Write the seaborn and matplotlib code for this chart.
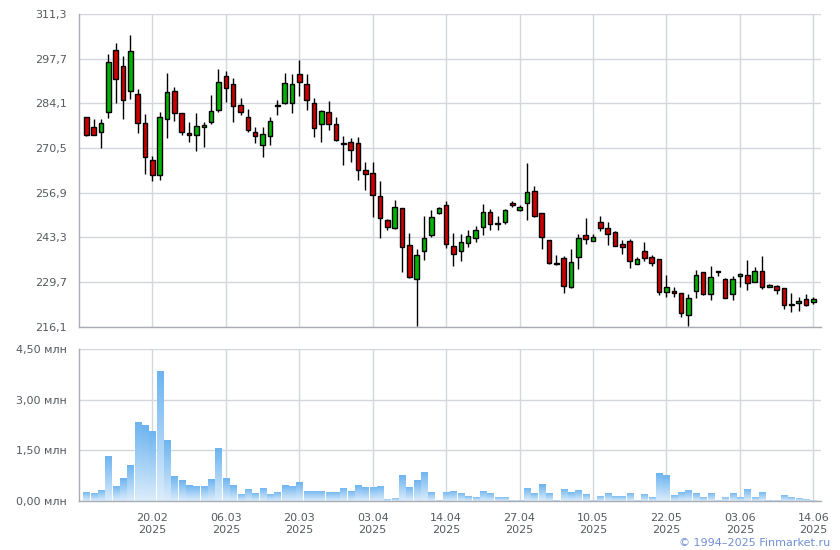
import matplotlib
matplotlib.use("Agg")
import matplotlib.pyplot as plt
import seaborn as sns
import numpy as np
import pandas as pd

# daily OHLC (100 sessions)
opens = [280.0, 277.0, 275.5, 281.6, 300.4, 295.6, 288.0, 287.0, 278.2, 266.9,
         262.4, 279.4, 288.0, 281.3, 275.2, 274.5, 277.0, 278.5, 282.2, 292.4,
         290.1, 283.7, 280.0, 275.5, 271.5, 274.3, 283.3, 284.3, 284.3, 293.1,
         290.1, 284.3, 277.9, 281.6, 277.9, 272.1, 272.4, 272.1, 263.7, 262.9,
         255.9, 248.6, 246.3, 252.2, 240.9, 230.6, 239.1, 244.0, 250.7, 253.2,
         240.8, 239.1, 241.5, 243.1, 246.6, 251.0, 247.4, 248.0, 253.8, 251.6,
         253.8, 257.4, 250.7, 242.5, 235.4, 237.0, 228.1, 237.3, 244.0, 242.2,
         248.0, 246.1, 244.9, 241.2, 242.2, 235.1, 239.1, 237.3, 236.7, 226.6,
         226.9, 226.3, 219.6, 226.9, 232.7, 226.0, 232.7, 230.6, 226.0, 231.5,
         231.8, 229.6, 233.0, 228.1, 228.4, 227.8, 222.9, 223.2, 224.4, 223.5]
highs = [280.0, 279.2, 279.4, 299.2, 302.6, 298.5, 304.8, 288.6, 280.8, 268.2,
         281.6, 293.4, 289.2, 281.3, 278.5, 281.3, 278.5, 286.5, 294.7, 294.0,
         291.9, 285.8, 282.5, 277.0, 277.0, 280.0, 285.2, 293.4, 293.1, 297.4,
         293.1, 285.8, 282.2, 284.9, 280.0, 274.3, 273.6, 273.9, 266.3, 266.3,
         260.5, 248.9, 254.7, 252.2, 244.6, 239.7, 249.8, 251.6, 252.4, 254.4,
         244.6, 244.3, 245.5, 246.7, 253.5, 251.9, 249.8, 251.9, 254.4, 253.2,
         266.0, 259.0, 250.7, 242.5, 237.9, 237.6, 239.7, 244.3, 249.2, 244.3,
         249.8, 248.0, 245.2, 242.5, 242.8, 237.3, 241.9, 237.9, 236.7, 231.8,
         228.1, 226.3, 226.0, 233.3, 232.7, 234.5, 233.0, 230.9, 231.5, 232.4,
         236.4, 234.2, 237.6, 229.0, 228.7, 227.8, 226.3, 225.1, 226.0, 225.1]
lows = [274.2, 274.4, 270.6, 279.7, 284.3, 279.4, 285.5, 275.2, 262.6, 260.6,
        260.9, 273.6, 278.7, 274.4, 272.3, 269.6, 270.8, 277.9, 281.5, 284.5,
        278.5, 280.6, 275.5, 272.1, 267.9, 271.4, 280.6, 284.0, 281.3, 286.4,
        282.2, 274.0, 272.3, 276.1, 272.6, 265.3, 266.2, 260.7, 257.6, 249.5,
        243.0, 245.5, 245.9, 232.9, 231.0, 216.3, 236.4, 243.4, 250.4, 240.2,
        234.7, 236.0, 240.3, 241.9, 243.9, 245.5, 245.5, 247.4, 252.5, 251.3,
        248.6, 249.4, 239.7, 235.3, 235.0, 226.3, 227.8, 233.6, 241.2, 242.2,
        245.2, 240.9, 240.6, 238.2, 233.9, 235.1, 236.1, 234.5, 225.6, 225.1,
        225.1, 219.0, 216.4, 224.8, 225.7, 224.1, 231.5, 224.7, 224.1, 228.1,
        227.2, 229.6, 227.5, 228.1, 226.0, 221.4, 220.5, 220.8, 222.3, 222.9]
closes = [274.5, 274.5, 278.2, 296.8, 291.6, 285.2, 300.1, 278.2, 267.7, 262.4,
          280.0, 287.7, 281.3, 275.5, 274.5, 277.3, 277.6, 281.9, 290.7, 288.9,
          283.4, 281.6, 276.1, 274.3, 274.9, 278.8, 283.5, 290.4, 290.1, 290.7,
          285.2, 276.7, 281.8, 277.9, 273.0, 271.8, 270.0, 263.8, 262.6, 256.1,
          249.2, 246.4, 252.5, 240.5, 231.2, 237.9, 243.1, 249.5, 252.1, 241.4,
          238.2, 241.9, 243.7, 245.5, 251.0, 247.4, 247.5, 251.6, 253.2, 252.5,
          257.1, 249.7, 243.4, 235.4, 235.1, 228.6, 235.7, 243.1, 242.8, 243.4,
          246.1, 244.3, 240.8, 240.3, 236.1, 236.7, 237.0, 235.4, 226.6, 228.1,
          226.3, 220.2, 224.8, 231.8, 226.0, 231.2, 232.8, 224.8, 230.6, 232.1,
          229.3, 233.0, 228.1, 228.7, 227.2, 222.6, 222.6, 223.8, 222.6, 224.4]
# volume, millions of shares
volumes = [0.27, 0.24, 0.33, 1.34, 0.45, 0.68, 1.07, 2.34, 2.25, 2.08,
           3.86, 1.81, 0.74, 0.62, 0.47, 0.45, 0.45, 0.65, 1.57, 0.68,
           0.47, 0.21, 0.36, 0.24, 0.39, 0.21, 0.27, 0.47, 0.45, 0.56,
           0.30, 0.30, 0.30, 0.27, 0.27, 0.39, 0.30, 0.47, 0.42, 0.42,
           0.45, 0.06, 0.09, 0.77, 0.42, 0.62, 0.86, 0.27, 0.03, 0.27,
           0.30, 0.24, 0.15, 0.12, 0.30, 0.24, 0.12, 0.12, 0.03, 0.03,
           0.39, 0.24, 0.50, 0.24, 0.03, 0.36, 0.27, 0.33, 0.21, 0.03,
           0.15, 0.24, 0.15, 0.15, 0.24, 0.03, 0.21, 0.12, 0.83, 0.77,
           0.18, 0.27, 0.33, 0.24, 0.12, 0.24, 0.03, 0.12, 0.24, 0.12,
           0.36, 0.12, 0.27, 0.03, 0.03, 0.18, 0.12, 0.09, 0.06, 0.03]
tick_labels = ["20.02\n2025", "06.03\n2025", "20.03\n2025", "03.04\n2025", "14.04\n2025",
               "27.04\n2025", "10.05\n2025", "22.05\n2025", "03.06\n2025", "14.06\n2025"]
price_ticks = [216.1, 229.7, 243.3, 256.9, 270.5, 284.1, 297.7, 311.3]
volume_ticks = [0.0, 1.5, 3.0, 4.5]

df = pd.DataFrame({"open": opens, "high": highs, "low": lows,
                   "close": closes, "volume": volumes})
df["idx"] = np.arange(len(df))
tick_pos = list(range(9, len(df), 10))

sns.set_theme(style="white")
plt.rcParams["font.family"] = ["DejaVu Sans"]

GRID = "#d3d7dc"
SPINE = "#a9adb3"
TEXT = "#555a60"
UP = "#00b400"
DOWN = "#cc0000"

fig = plt.figure(figsize=(8.4, 5.5), dpi=100)
ax = fig.add_axes([0.094, 0.406, 0.883, 0.5685])
axv = fig.add_axes([0.094, 0.089, 0.883, 0.276])


def style_axis(a):
    a.set_xlim(-1, len(df))
    a.set_xticks(tick_pos)
    a.grid(True, color=GRID, linewidth=1)
    a.set_axisbelow(True)
    for s in ("top", "right"):
        a.spines[s].set_visible(False)
    for s in ("left", "bottom"):
        a.spines[s].set_color(SPINE)
        a.spines[s].set_linewidth(1)
    a.tick_params(axis="both", length=5, width=1, color=SPINE,
                  labelsize=8, labelcolor=TEXT, direction="out")


# price candles
style_axis(ax)
ax.vlines(df["idx"], df["low"], df["high"], color="black", linewidth=1, zorder=2)
body_lo = np.minimum(df["open"], df["close"])
body_h = np.maximum((df["close"] - df["open"]).abs(), 0.25)
colors = np.where(df["close"] >= df["open"], UP, DOWN)
ax.bar(df["idx"], body_h, bottom=body_lo, width=0.62, color=colors,
       edgecolor="black", linewidth=1, zorder=3)
ax.set_ylim(price_ticks[0], price_ticks[-1])
ax.set_yticks(price_ticks)
ax.set_yticklabels([f"{v:.1f}".replace(".", ",") for v in price_ticks])
ax.set_xticklabels([])
ax.set_xlabel("")
ax.set_ylabel("")

# volume bars, filled with a vertical gradient clipped to each bar
style_axis(axv)
sns.barplot(data=df, x="idx", y="volume", ax=axv, color="#8cc4f2",
            width=0.82, native_scale=True, linewidth=0)
grad = np.linspace(0, 1, 256).reshape(-1, 1)
cmap = matplotlib.colors.LinearSegmentedColormap.from_list("vol", ["#dcedfb", "#6cb3ef"])
axv.set_xlim(-1, len(df))
axv.set_ylim(0, 4.5)
for p in list(axv.patches):
    x0, w, h = p.get_x(), p.get_width(), p.get_height()
    if h <= 0:
        continue
    p.set_facecolor("none")
    im = axv.imshow(grad, extent=[x0, x0 + w, 0, h], origin="lower", aspect="auto",
                    cmap=cmap, vmin=0, vmax=1, interpolation="bilinear", zorder=2)
    im.set_clip_path(p)
axv.set_xlim(-1, len(df))
axv.set_ylim(0, 4.5)
axv.set_yticks(volume_ticks)
axv.set_yticklabels([f"{v:.2f}".replace(".", ",") + " млн" for v in volume_ticks])
axv.set_xticks(tick_pos)
axv.set_xticklabels(tick_labels, fontsize=8, color=TEXT, linespacing=1.25)
axv.set_xlabel("")
axv.set_ylabel("")

fig.text(0.988, 0.004, "© 1994–2025 Finmarket.ru", ha="right", va="bottom",
         fontsize=8, color="#6f8fd6")

fig.savefig("out.png", dpi=100)
